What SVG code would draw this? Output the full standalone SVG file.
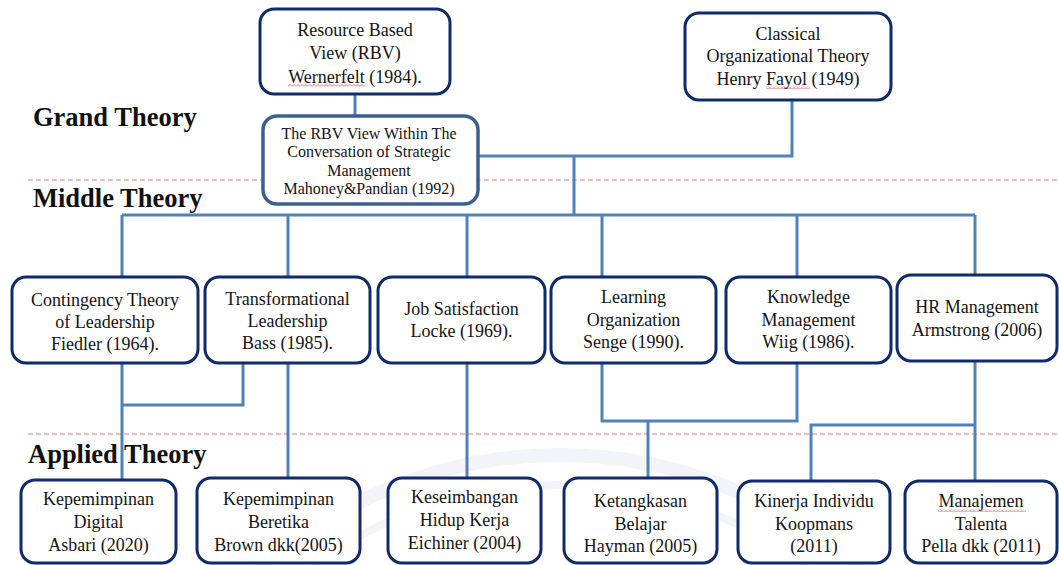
<svg xmlns="http://www.w3.org/2000/svg" width="1059" height="565" viewBox="0 0 1059 565">
  <defs>
    <style>
      .box { fill: #ffffff; stroke: #112a6a; stroke-width: 3; }
      .box2 { fill: #ffffff; stroke: #3b5f8e; stroke-width: 3.5; }
      .t { font-family: "Liberation Serif", "Times New Roman", serif; font-size: 18px; fill: #141414; text-anchor: middle; }
      .ts { font-family: "Liberation Serif", "Times New Roman", serif; font-size: 16px; fill: #141414; text-anchor: middle; }
      .lvl { font-family: "Liberation Serif", "Times New Roman", serif; font-size: 26.5px; font-weight: bold; fill: #111111; }
      .conn { fill: none; stroke: #4f81bd; stroke-width: 3; stroke-linejoin: miter; }
      .sep { stroke: #e07a7a; stroke-width: 1.2; stroke-dasharray: 5 3; }
      .wm { fill: none; stroke: #eeeef8; }
    </style>
    <pattern id="squiggle" width="4" height="3" patternUnits="userSpaceOnUse">
      <path d="M0,2.5 L2,0.5 L4,2.5" fill="none" stroke="#e04040" stroke-width="0.8"/>
    </pattern>
  </defs>

  <rect width="1059" height="565" fill="#ffffff"/>

  <!-- faint background seal -->
  <g id="watermark" opacity="0.7">
    <circle class="wm" cx="560" cy="905" r="450" stroke-width="14"/>
    <circle class="wm" cx="560" cy="905" r="420" stroke-width="8"/>
  </g>

  <!-- level separators -->
  <g id="separators">
    <line class="sep" x1="28" y1="180" x2="1059" y2="180"/>
    <line class="sep" x1="28" y1="434" x2="1059" y2="434"/>
  </g>

  <!-- level labels -->
  <g id="levels">
    <text class="lvl" x="33" y="126">Grand Theory</text>
    <text class="lvl" x="33" y="207">Middle Theory</text>
    <text class="lvl" x="28" y="463">Applied Theory</text>
  </g>

  <!-- connectors -->
  <g id="connectors">
    <path class="conn" d="M355,95 V116"/>
    <path class="conn" d="M478,156 H792 V100"/>
    <path class="conn" d="M574,156 V215"/>
    <path class="conn" d="M122,215 H975"/>
    <path class="conn" d="M122,215 V277"/>
    <path class="conn" d="M288,215 V276"/>
    <path class="conn" d="M467,215 V277"/>
    <path class="conn" d="M602,215 V277"/>
    <path class="conn" d="M797,215 V277"/>
    <path class="conn" d="M975,215 V275"/>
    <path class="conn" d="M122,363 V480"/>
    <path class="conn" d="M243,363 V405 H122"/>
    <path class="conn" d="M288,363 V478"/>
    <path class="conn" d="M467,363 V478"/>
    <path class="conn" d="M602,363 V421 H797 V363"/>
    <path class="conn" d="M648,421 V478"/>
    <path class="conn" d="M975,361 V481"/>
    <path class="conn" d="M811,481 V425 H975"/>
  </g>

  <!-- grand theory -->
  <g id="rbv">
    <rect class="box" x="260" y="9" width="190" height="85" rx="14"/>
    <text class="t" x="355" y="35.5">Resource Based</text>
    <text class="t" x="355" y="59">View (RBV)</text>
    <text class="t" x="355" y="82.5">Wernerfelt (1984).</text>
    <rect x="288" y="84" width="77" height="3" fill="url(#squiggle)"/>
  </g>

  <g id="classical">
    <rect class="box" x="685" y="13" width="206" height="87" rx="14"/>
    <text class="t" x="788" y="39.5">Classical</text>
    <text class="t" x="788" y="62">Organizational Theory</text>
    <text class="t" x="788" y="84.5">Henry Fayol (1949)</text>
    <rect x="766" y="86" width="44" height="3" fill="url(#squiggle)"/>
  </g>

  <g id="rbv-strategic">
    <rect class="box2" x="263" y="116" width="215" height="88" rx="14"/>
    <text class="ts" x="369" y="138.5">The RBV View Within The</text>
    <text class="ts" x="369" y="157">Conversation of Strategic</text>
    <text class="ts" x="369" y="175.5">Management</text>
    <text class="ts" x="369" y="194">Mahoney&amp;Pandian (1992)</text>
  </g>

  <!-- middle theory -->
  <g id="contingency">
    <rect class="box" x="12" y="277" width="186" height="86" rx="14"/>
    <text class="t" x="105" y="305.5">Contingency Theory</text>
    <text class="t" x="105" y="327.5">of Leadership</text>
    <text class="t" x="105" y="349.5">Fiedler (1964).</text>
  </g>

  <g id="transformational">
    <rect class="box" x="205" y="277" width="165" height="86" rx="14"/>
    <text class="t" x="287.5" y="305">Transformational</text>
    <text class="t" x="287.5" y="327">Leadership</text>
    <text class="t" x="287.5" y="349">Bass (1985).</text>
  </g>

  <g id="job-satisfaction">
    <rect class="box" x="378" y="277" width="167" height="86" rx="14"/>
    <text class="t" x="461.5" y="314.5">Job Satisfaction</text>
    <text class="t" x="461.5" y="337">Locke (1969).</text>
  </g>

  <g id="learning-organization">
    <rect class="box" x="551" y="277" width="165" height="86" rx="14"/>
    <text class="t" x="633.5" y="303">Learning</text>
    <text class="t" x="633.5" y="325.5">Organization</text>
    <text class="t" x="633.5" y="348">Senge (1990).</text>
  </g>

  <g id="knowledge-management">
    <rect class="box" x="726" y="277" width="165" height="86" rx="14"/>
    <text class="t" x="808.5" y="303">Knowledge</text>
    <text class="t" x="808.5" y="325.5">Management</text>
    <text class="t" x="808.5" y="348">Wiig (1986).</text>
  </g>

  <g id="hr-management">
    <rect class="box" x="897" y="275" width="160" height="86" rx="14"/>
    <text class="t" x="977" y="313">HR Management</text>
    <text class="t" x="977" y="336">Armstrong (2006)</text>
  </g>

  <!-- applied theory -->
  <g id="digital-leadership">
    <rect class="box" x="21" y="480" width="155" height="83" rx="14"/>
    <text class="t" x="98.5" y="505">Kepemimpinan</text>
    <text class="t" x="98.5" y="528">Digital</text>
    <text class="t" x="98.5" y="551">Asbari (2020)</text>
  </g>

  <g id="ethical-leadership">
    <rect class="box" x="197" y="478" width="163" height="85" rx="14"/>
    <text class="t" x="278.5" y="505">Kepemimpinan</text>
    <text class="t" x="278.5" y="528">Beretika</text>
    <text class="t" x="278.5" y="551">Brown dkk(2005)</text>
  </g>

  <g id="work-life-balance">
    <rect class="box" x="388" y="478" width="153" height="85" rx="14"/>
    <text class="t" x="464.5" y="503">Keseimbangan</text>
    <text class="t" x="464.5" y="526">Hidup Kerja</text>
    <text class="t" x="464.5" y="549">Eichiner (2004)</text>
  </g>

  <g id="learning-agility">
    <rect class="box" x="564" y="478" width="153" height="85" rx="14"/>
    <text class="t" x="640.5" y="506.5">Ketangkasan</text>
    <text class="t" x="640.5" y="529.5">Belajar</text>
    <text class="t" x="640.5" y="552">Hayman (2005)</text>
  </g>

  <g id="individual-performance">
    <rect class="box" x="738" y="481" width="152" height="82" rx="14"/>
    <text class="t" x="814" y="506.5">Kinerja Individu</text>
    <text class="t" x="814" y="529.5">Koopmans</text>
    <text class="t" x="814" y="552">(2011)</text>
  </g>

  <g id="talent-management">
    <rect class="box" x="905" y="481" width="152" height="82" rx="14"/>
    <text class="t" x="981" y="506.5">Manajemen</text>
    <text class="t" x="981" y="529.5">Talenta</text>
    <text class="t" x="981" y="552">Pella dkk (2011)</text>
    <rect x="938" y="509" width="88" height="3" fill="url(#squiggle)"/>
  </g>
</svg>
